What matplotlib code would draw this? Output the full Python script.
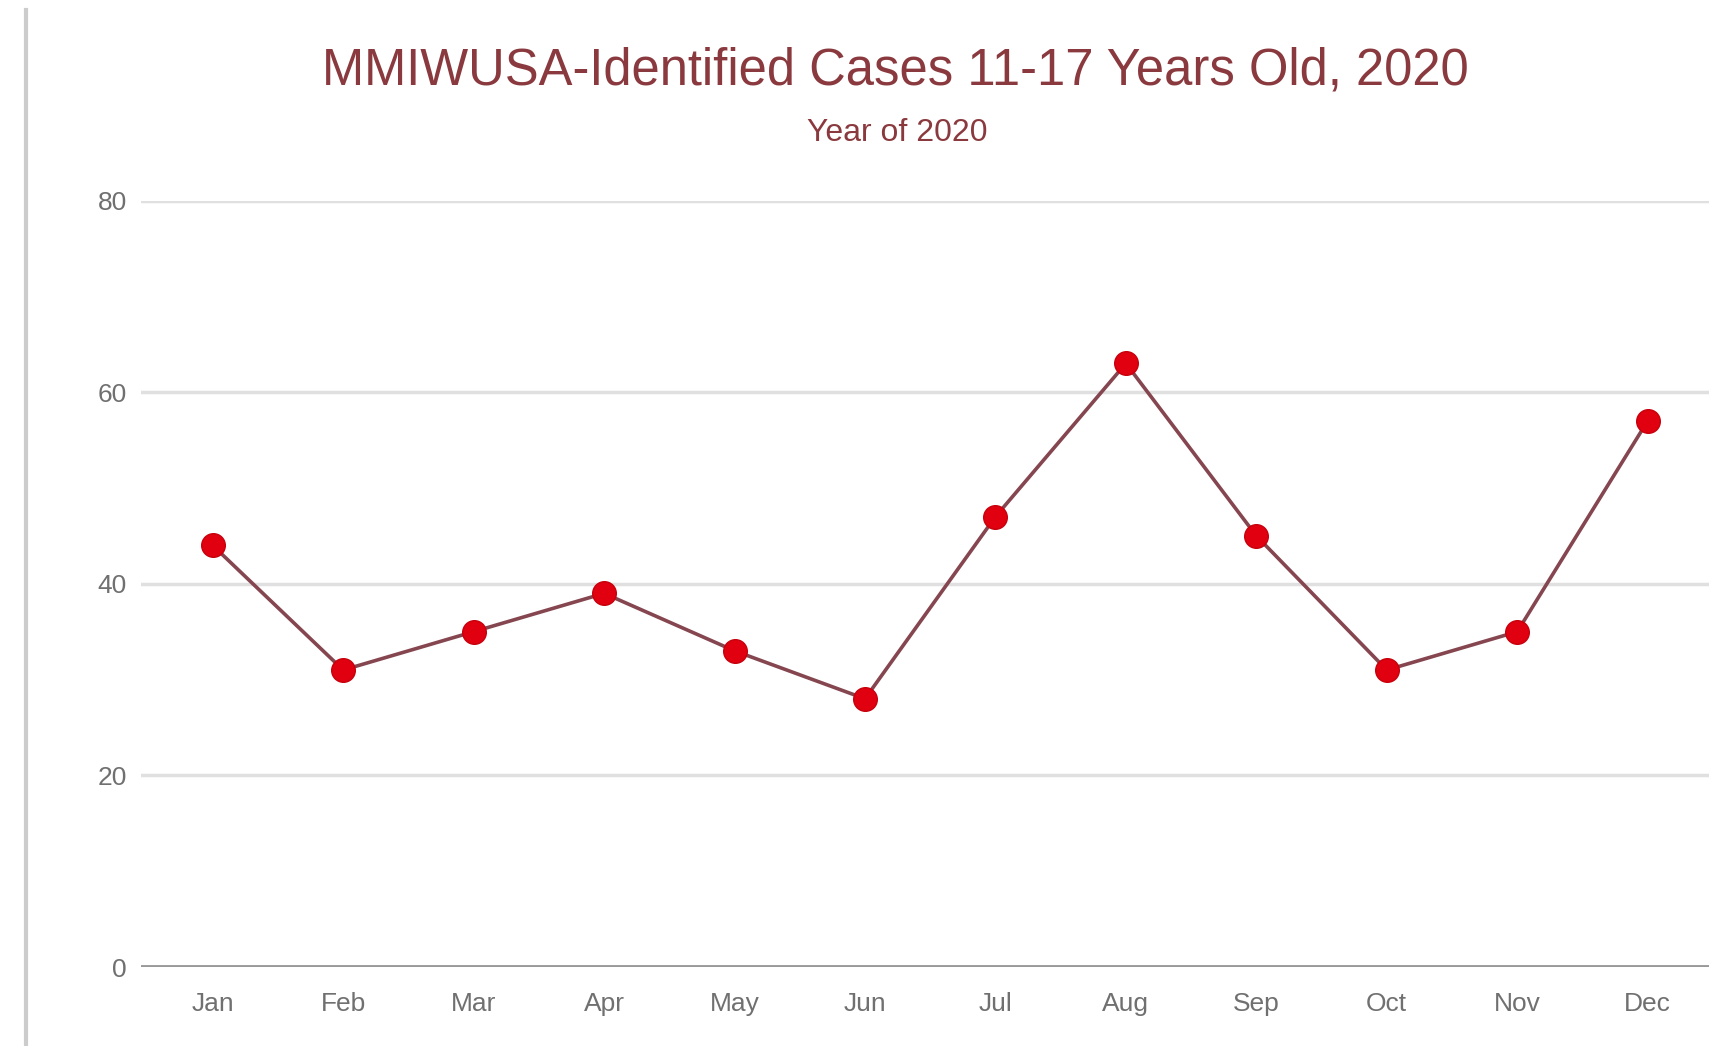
import matplotlib.pyplot as plt
from matplotlib.lines import Line2D

months = ["Jan", "Feb", "Mar", "Apr", "May", "Jun",
          "Jul", "Aug", "Sep", "Oct", "Nov", "Dec"]
cases = [44, 31, 35, 39, 33, 28, 47, 63, 45, 31, 35, 57]
yticks = [0, 20, 40, 60, 80]

title = "MMIWUSA-Identified Cases 11-17 Years Old, 2020"
subtitle = "Year of 2020"

plt.rcParams['font.family'] = ['Liberation Sans', 'DejaVu Sans']

fig = plt.figure(figsize=(17.09, 10.46), dpi=100)
ax = fig.add_axes([0.0825, 0.0755, 0.9175, 0.7328])

x = list(range(len(months)))
ax.plot(x, cases, color='#854650', linewidth=2.6, zorder=3)
ax.plot(x, cases, linestyle='none', marker='o', markersize=17,
        markerfacecolor='#e00010', markeredgecolor='#c8000c', zorder=4)

ax.set_xlim(-0.55, 11.47)
ax.set_ylim(0, 80)
ax.set_xticks(x)
ax.set_xticklabels(months)
ax.set_yticks(yticks)
ax.tick_params(axis='both', length=0, labelsize=19, labelcolor='#707070')
ax.tick_params(axis='x', pad=18)
ax.tick_params(axis='y', pad=10)

for y in yticks[1:]:
    ax.axhline(y, color='#e0e0e0', linewidth=2.5, zorder=1)
ax.axhline(0, color='#999999', linewidth=3.5, zorder=2)

for s in ax.spines.values():
    s.set_visible(False)

fig.text(0.524, 0.932, title, ha='center', va='center',
         fontsize=36.5, color='#8a3a3e')
fig.text(0.525, 0.873, subtitle, ha='center', va='center',
         fontsize=23, color='#8a3a3e')

# grey border line at left of the picture
fig.add_artist(Line2D([0.0152, 0.0152], [0.0, 0.99], color='#cccccc',
                      linewidth=3, transform=fig.transFigure))

fig.savefig("out.png", dpi=100)
